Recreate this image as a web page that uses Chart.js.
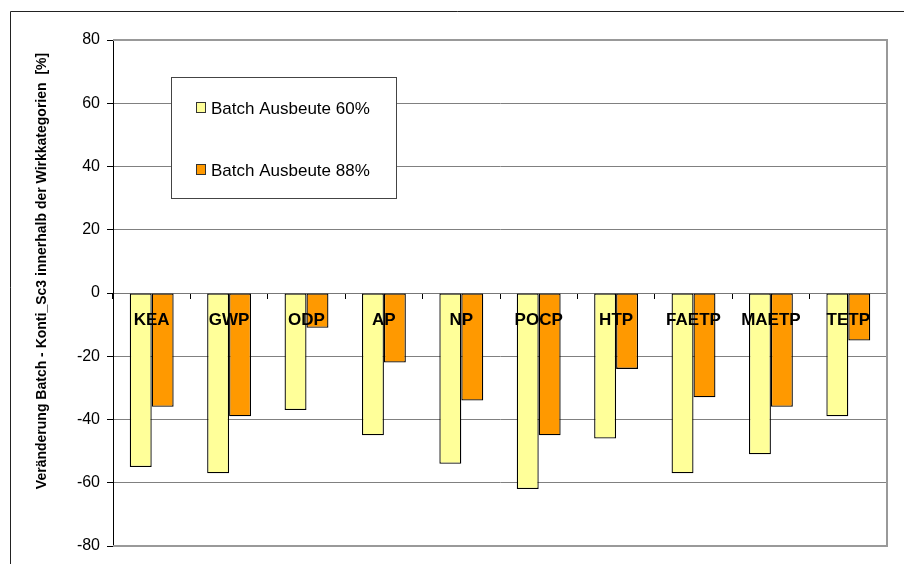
<!DOCTYPE html>
<html lang="de">
<head>
    <meta charset="UTF-8">
    <title>Veränderung Batch - Konti_Sc3</title>
    <script src="https://cdn.jsdelivr.net/npm/chart.js"></script>
    <style>
        html, body { margin: 0; padding: 0; background: #fff; }
        .wrap { position: relative; width: 904px; height: 564px; }
    </style>
</head>
<body>
    <div class="wrap">
        <canvas id="barChart" width="904" height="564"></canvas>
    </div>
    <script>
        // Data
        const categories = ['KEA', 'GWP', 'ODP', 'AP', 'NP', 'POCP', 'HTP', 'FAETP', 'MAETP', 'TETP'];
        const seriesNames = ['Batch Ausbeute 60%', 'Batch Ausbeute 88%'];
        const ausbeute60 = [-55, -57, -37, -45, -54, -62, -46, -57, -51, -39];
        const ausbeute88 = [-36, -39, -11, -22, -34, -45, -24, -33, -36, -15];
        const yTicks = [80, 60, 40, 20, 0, -20, -40, -60, -80];
        const yTitle = 'Veränderung Batch - Konti_Sc3 innerhalb der Wirkkategorien  [%]';

        const FONT = '"Liberation Sans", Arial, sans-serif';

        // frame, plot border, axis title and the boxed legend
        const decorations = {
            id: 'decorations',
            beforeDraw(chart) {
                const ctx = chart.ctx;
                ctx.save();
                ctx.fillStyle = '#fff';
                ctx.fillRect(0, 0, chart.width, chart.height);
                ctx.strokeStyle = '#222';
                ctx.lineWidth = 1;
                ctx.beginPath();
                ctx.moveTo(10.5, chart.height);
                ctx.lineTo(10.5, 11.5);
                ctx.lineTo(chart.width, 11.5);
                ctx.stroke();
                ctx.restore();
            },
            afterDraw(chart) {
                const ctx = chart.ctx;
                const a = chart.chartArea;
                ctx.save();
                // plot area border (top, right, bottom)
                ctx.strokeStyle = '#999';
                ctx.lineWidth = 2;
                ctx.beginPath();
                ctx.moveTo(a.left, a.top);
                ctx.lineTo(a.right, a.top);
                ctx.lineTo(a.right, a.bottom);
                ctx.lineTo(a.left, a.bottom);
                ctx.stroke();

                // y axis title
                ctx.fillStyle = '#000';
                ctx.font = 'bold 14px ' + FONT;
                ctx.textAlign = 'center';
                ctx.textBaseline = 'middle';
                ctx.translate(42, 271);
                ctx.rotate(-Math.PI / 2);
                ctx.fillText(yTitle, 0, 0);
                ctx.restore();

                // legend box
                ctx.save();
                ctx.fillStyle = '#fff';
                ctx.fillRect(171, 77, 225, 121);
                ctx.strokeStyle = '#444';
                ctx.lineWidth = 1;
                ctx.strokeRect(171.5, 77.5, 225, 121);
                ctx.font = '17px ' + FONT;
                ctx.textAlign = 'left';
                ctx.textBaseline = 'middle';
                const rows = [108, 170];
                chart.data.datasets.forEach((ds, i) => {
                    ctx.fillStyle = ds.backgroundColor;
                    ctx.fillRect(196.5, rows[i] - 5.5, 9, 10);
                    ctx.strokeStyle = '#333';
                    ctx.strokeRect(196.5, rows[i] - 5.5, 9, 10);
                    ctx.fillStyle = '#000';
                    ctx.fillText(ds.label, 211, rows[i] + 1);
                });
                ctx.restore();
            }
        };

        const ctxBar = document.getElementById('barChart').getContext('2d');
        const barChart = new Chart(ctxBar, {
            type: 'bar',
            data: {
                labels: categories,
                datasets: [{
                    label: seriesNames[0],
                    data: ausbeute60,
                    backgroundColor: '#FFFF99',
                    borderColor: '#000',
                    borderWidth: 1.3,
                    borderSkipped: false,
                    categoryPercentage: 0.567,
                    barPercentage: 1
                }, {
                    label: seriesNames[1],
                    data: ausbeute88,
                    backgroundColor: '#FF9900',
                    borderColor: '#000',
                    borderWidth: 1.3,
                    borderSkipped: false,
                    categoryPercentage: 0.567,
                    barPercentage: 1
                }]
            },
            options: {
                responsive: false,
                animation: false,
                layout: { padding: { left: 0, top: 40, right: 17, bottom: 18 } },
                plugins: {
                    legend: { display: false },
                    tooltip: { enabled: false }
                },
                scales: {
                    x: {
                        position: { y: 0 },
                        grid: {
                            drawOnChartArea: false,
                            tickLength: 5,
                            tickColor: '#000'
                        },
                        border: { display: true, color: '#777' },
                        ticks: {
                            z: 1,
                            color: '#000',
                            padding: 12,
                            maxRotation: 0,
                            autoSkip: false,
                            font: { family: FONT, size: 17, weight: 'bold' }
                        }
                    },
                    y: {
                        min: -80,
                        max: 80,
                        afterFit: (scale) => { scale.width = 113; },
                        afterBuildTicks: (scale) => {
                            scale.ticks = yTicks.map(v => ({ value: v }));
                        },
                        grid: {
                            color: '#808080',
                            tickLength: 6,
                            tickColor: '#000'
                        },
                        border: { display: true, color: '#000' },
                        ticks: {
                            color: '#000',
                            padding: 7,
                            font: { family: FONT, size: 16 }
                        }
                    }
                }
            },
            plugins: [decorations]
        });
    </script>
</body>
</html>
